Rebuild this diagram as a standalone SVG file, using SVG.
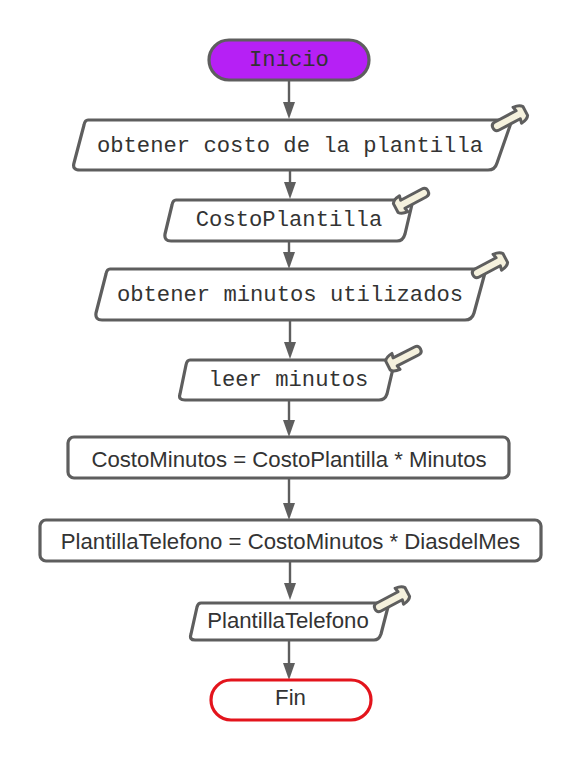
<svg xmlns="http://www.w3.org/2000/svg" width="581" height="761" viewBox="0 0 581 761">
<style>
.s{fill:#fff;stroke:#5e5e5e;stroke-width:3.2;stroke-linejoin:round}
.c{stroke:#5e5e5e;stroke-width:2.4;fill:none}
.a{fill:#5e5e5e}
.m{font:22.2px "Liberation Mono","DejaVu Sans Mono",monospace;fill:#333;text-anchor:middle}
.t{font:22.2px "Liberation Sans",Arial,sans-serif;fill:#333;text-anchor:middle}
.p{fill:#f5f1dd;stroke:#5e5e5e;stroke-width:3;stroke-linejoin:round}
</style>
<defs>
<path id="ah" class="a" d="M-6 -17H6L0 0Z"/>
<path id="pin" class="p" d="M0 -4.500 L24 -4.500 L23 -9 Q30 -8.500 32 -5 L32 5 Q30 8.500 23 9 L24 4.500 L0 4.500 Q-4.500 4.500 -4.500 0 Q-4.500 -4.500 0 -4.500Z"/>
</defs>
<rect width="581" height="761" fill="#fff"/>
<g id="connectors">
<path class="c" d="M289 80V104"/><use href="#ah" x="289" y="119"/>
<path class="c" d="M290 171V184"/><use href="#ah" x="290" y="199"/>
<path class="c" d="M289 241V254"/><use href="#ah" x="289" y="269"/>
<path class="c" d="M290 320V344"/><use href="#ah" x="290" y="359"/>
<path class="c" d="M289 401V422"/><use href="#ah" x="289" y="437"/>
<path class="c" d="M289 478V505"/><use href="#ah" x="289" y="520"/>
<path class="c" d="M290 561V588"/><use href="#ah" x="290" y="600"/>
<path class="c" d="M289 641V665"/><use href="#ah" x="289" y="680"/>
</g>
<g id="n1"><rect class="s" x="209" y="40" width="160" height="40" rx="20" style="fill:#b620f5"/><text class="m" x="289" y="66">Inicio</text></g>
<g id="n2"><path class="s" d="M88 120H512L497 163Q495 170 488 170H80Q72 170 74 163L84 125Q85 120 88 120Z"/><text class="m" x="290" y="152">obtener costo de la plantilla</text><use href="#pin" transform="translate(497 126) rotate(-28)"/></g>
<g id="n3"><path class="s" d="M176 200H413L405 234Q403 241 397 241H171Q164 241 165 234L172 205Q173 200 176 200Z"/><text class="m" x="289" y="226">CostoPlantilla</text><use href="#pin" transform="translate(424 193) rotate(152)"/></g>
<g id="n4"><path class="s" d="M110 269H486L474 313Q472 320 465 320H102Q95 320 96 313L106 274Q107 269 110 269Z"/><text class="m" x="290" y="301">obtener minutos utilizados</text><use href="#pin" transform="translate(477 273) rotate(-28)"/></g>
<g id="n5"><path class="s" d="M190 360H395L387 394Q385 400 379 400H185Q178 400 180 394L186 365Q187 360 190 360Z"/><text class="m" x="288.500" y="386">leer minutos</text><use href="#pin" transform="translate(416.500 351) rotate(153)"/></g>
<g id="n6"><rect class="s" x="68" y="437" width="441" height="41" rx="6"/><text class="t" x="289" y="467">CostoMinutos = CostoPlantilla * Minutos</text></g>
<g id="n7"><rect class="s" x="40" y="520" width="501" height="41" rx="6"/><text class="t" x="290.500" y="549">PlantillaTelefono = CostoMinutos * DiasdelMes</text></g>
<g id="n8"><path class="s" d="M201 603H389L381 634Q379 640 374 640H195Q189 640 191 634L197 607Q198 603 201 603Z"/><text class="t" x="288" y="628">PlantillaTelefono</text><use href="#pin" transform="translate(379 607) rotate(-28)"/></g>
<g id="n9"><rect class="s" x="211" y="680" width="160" height="40" rx="20" style="stroke:#e3141c"/><text class="t" x="290.500" y="705">Fin</text></g>
</svg>
